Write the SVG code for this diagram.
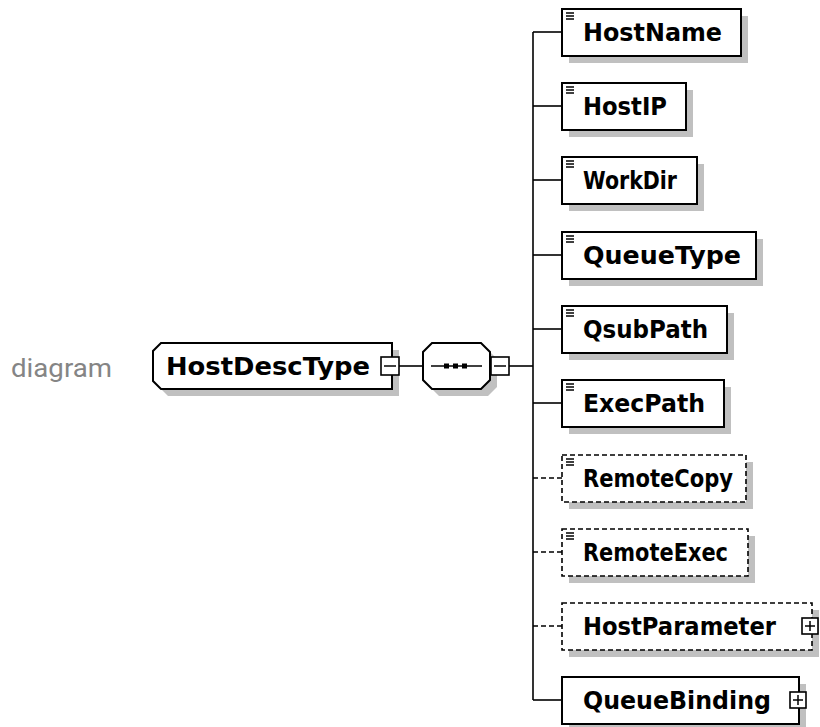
<svg xmlns="http://www.w3.org/2000/svg" width="820" height="727" viewBox="0 0 820 727">
  <defs>
    <style>
      .shadow { fill: #c0c0c0; stroke: none; }
      .box { fill: #ffffff; stroke: #000000; stroke-width: 2; }
      .opt { fill: #ffffff; stroke: #000000; stroke-width: 1.6; stroke-dasharray: 5 3; }
      .conn { fill: none; stroke: #000000; stroke-width: 1.6; }
      .conn-opt { fill: none; stroke: #000000; stroke-width: 1.6; stroke-dasharray: 5 3; }
      .lbl { font-family: "DejaVu Sans", "Liberation Sans", sans-serif; font-weight: bold; font-size: 24px; fill: #000000; }
      .icon { stroke: #000000; stroke-width: 1.5; }
      .tog { fill: #ffffff; stroke: #000000; stroke-width: 1.6; }
      .cap { font-family: Roboto, "Liberation Sans", sans-serif; font-size: 26px; fill: #858585; }
    </style>
    <!-- small "text content" marker in the top-left corner of simple elements -->
    <g id="txt-icon">
      <line class="icon" x1="0" y1="0" x2="8" y2="0"/>
      <line class="icon" x1="0" y1="3" x2="8" y2="3"/>
      <line class="icon" x1="0" y1="6" x2="8" y2="6"/>
    </g>
    <g id="plus">
      <rect class="tog" x="0" y="0" width="16" height="16"/>
      <line class="icon" x1="3" y1="8" x2="13" y2="8"/>
      <line class="icon" x1="8" y1="3" x2="8" y2="13"/>
    </g>
    <g id="minus">
      <rect class="tog" x="0" y="0" width="18" height="18"/>
      <line class="icon" x1="3" y1="9" x2="15" y2="9"/>
    </g>
  </defs>

  <text class="cap" x="11" y="377" textLength="101" lengthAdjust="spacingAndGlyphs">diagram</text>

  <!-- connectors -->
  <g id="connectors">
    <line class="conn" x1="399" y1="366" x2="423" y2="366"/>
    <line class="conn" x1="509" y1="366" x2="533" y2="366"/>
    <line class="conn" x1="533" y1="32" x2="533" y2="700"/>
    <line class="conn" x1="533" y1="32" x2="562" y2="32"/>
    <line class="conn" x1="533" y1="106" x2="562" y2="106"/>
    <line class="conn" x1="533" y1="180" x2="562" y2="180"/>
    <line class="conn" x1="533" y1="255" x2="562" y2="255"/>
    <line class="conn" x1="533" y1="329" x2="562" y2="329"/>
    <line class="conn" x1="533" y1="403" x2="562" y2="403"/>
    <line class="conn-opt" x1="533" y1="478" x2="562" y2="478"/>
    <line class="conn-opt" x1="533" y1="552" x2="562" y2="552"/>
    <line class="conn-opt" x1="533" y1="626" x2="562" y2="626"/>
    <line class="conn" x1="533" y1="700" x2="562" y2="700"/>
  </g>

  <!-- complex type -->
  <g id="HostDescType">
    <path class="shadow" d="M168,350 H399 V396 H168 L160,388 V358 Z"/>
    <path class="box" d="M161,343 H392 V389 H161 L153,381 V351 Z"/>
    <text class="lbl" x="166" y="375" textLength="204" lengthAdjust="spacingAndGlyphs">HostDescType</text>
    <use href="#minus" x="381" y="357"/>
  </g>

  <!-- sequence compositor -->
  <g id="sequence">
    <path class="shadow" d="M439,350 H488 L497,359 V387 L488,396 H439 L430,387 V359 Z"/>
    <path class="box" d="M432,343 H481 L490,352 V380 L481,389 H432 L423,380 V352 Z"/>
    <line class="conn" x1="431" y1="366" x2="482" y2="366"/>
    <rect x="444" y="363.5" width="5" height="5" fill="#000000"/>
    <rect x="453" y="363.5" width="5" height="5" fill="#000000"/>
    <rect x="462" y="363.5" width="5" height="5" fill="#000000"/>
    <use href="#minus" x="491" y="357"/>
  </g>

  <g id="HostName">
    <rect class="shadow" x="569" y="16" width="179" height="47"/>
    <rect class="box" x="562" y="9" width="179" height="47"/>
    <use href="#txt-icon" x="566" y="13"/>
    <text class="lbl" x="583" y="41" textLength="139" lengthAdjust="spacingAndGlyphs">HostName</text>
  </g>

  <g id="HostIP">
    <rect class="shadow" x="569" y="90" width="124" height="47"/>
    <rect class="box" x="562" y="83" width="124" height="47"/>
    <use href="#txt-icon" x="566" y="87"/>
    <text class="lbl" x="583" y="115" textLength="84" lengthAdjust="spacingAndGlyphs">HostIP</text>
  </g>

  <g id="WorkDir">
    <rect class="shadow" x="569" y="164" width="135" height="47"/>
    <rect class="box" x="562" y="157" width="135" height="47"/>
    <use href="#txt-icon" x="566" y="161"/>
    <text class="lbl" x="583" y="189" textLength="94" lengthAdjust="spacingAndGlyphs">WorkDir</text>
  </g>

  <g id="QueueType">
    <rect class="shadow" x="569" y="239" width="194" height="47"/>
    <rect class="box" x="562" y="232" width="194" height="47"/>
    <use href="#txt-icon" x="566" y="236"/>
    <text class="lbl" x="583" y="264" textLength="158" lengthAdjust="spacingAndGlyphs">QueueType</text>
  </g>

  <g id="QsubPath">
    <rect class="shadow" x="569" y="313" width="165" height="47"/>
    <rect class="box" x="562" y="306" width="165" height="47"/>
    <use href="#txt-icon" x="566" y="310"/>
    <text class="lbl" x="583" y="338" textLength="125" lengthAdjust="spacingAndGlyphs">QsubPath</text>
  </g>

  <g id="ExecPath">
    <rect class="shadow" x="569" y="387" width="162" height="47"/>
    <rect class="box" x="562" y="380" width="162" height="47"/>
    <use href="#txt-icon" x="566" y="384"/>
    <text class="lbl" x="583" y="412" textLength="122" lengthAdjust="spacingAndGlyphs">ExecPath</text>
  </g>

  <g id="RemoteCopy">
    <rect class="shadow" x="569" y="462" width="184" height="47"/>
    <rect class="opt" x="562" y="455" width="184" height="47"/>
    <use href="#txt-icon" x="566" y="459"/>
    <text class="lbl" x="583" y="487" textLength="150" lengthAdjust="spacingAndGlyphs">RemoteCopy</text>
  </g>

  <g id="RemoteExec">
    <rect class="shadow" x="569" y="536" width="186" height="47"/>
    <rect class="opt" x="562" y="529" width="186" height="47"/>
    <use href="#txt-icon" x="566" y="533"/>
    <text class="lbl" x="583" y="561" textLength="145" lengthAdjust="spacingAndGlyphs">RemoteExec</text>
  </g>

  <g id="HostParameter">
    <rect class="shadow" x="569" y="610" width="250" height="47"/>
    <rect class="opt" x="562" y="603" width="250" height="47"/>
    <text class="lbl" x="583" y="635" textLength="193" lengthAdjust="spacingAndGlyphs">HostParameter</text>
    <use href="#plus" x="802" y="618"/>
  </g>

  <g id="QueueBinding">
    <rect class="shadow" x="569" y="684" width="237" height="47"/>
    <rect class="box" x="562" y="677" width="237" height="47"/>
    <text class="lbl" x="583" y="709" textLength="188" lengthAdjust="spacingAndGlyphs">QueueBinding</text>
    <use href="#plus" x="790" y="692"/>
  </g>
</svg>
